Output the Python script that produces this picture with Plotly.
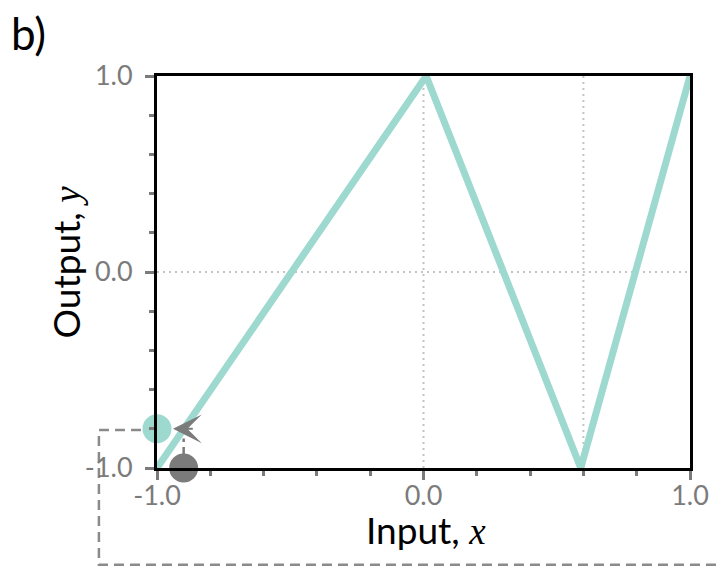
import plotly.graph_objects as go

# data
line_x = [-1.0, 0.01, 0.59, 1.0]
line_y = [-1.0, 1.0, -1.0, 1.0]
teal_pt_x = [-1.0]
teal_pt_y = [-0.8]
gray_pt_x = [-0.9]
gray_pt_y = [-1.0]
grid_x = [0.0, 0.6]
grid_y = [0.0]
tick_vals = [-1.0, 0.0, 1.0]
tick_text = ["-1.0", "0.0", "1.0"]
x_title = "Input, "
y_title = "Output, "

TEAL = "#9ed9d0"
GRAY = "#7b7b7b"
DASHGRAY = "#8a8a8a"
FONT = "Lato"
MATH = "<span style='font-family:Liberation Serif;font-style:italic'>%s</span>"

fig = go.Figure()
fig.add_trace(go.Scatter(x=line_x, y=line_y, mode="lines",
                         line=dict(color=TEAL, width=7), cliponaxis=False,
                         showlegend=False, hoverinfo="skip"))
# dashed connector from gray point up towards the arrow
fig.add_trace(go.Scatter(x=[gray_pt_x[0], gray_pt_x[0]], y=[gray_pt_y[0], teal_pt_y[0] - 0.05],
                         mode="lines", line=dict(color=GRAY, width=2.5, dash="8px,5px"),
                         cliponaxis=False, showlegend=False, hoverinfo="skip"))
fig.add_trace(go.Scatter(x=teal_pt_x, y=teal_pt_y, mode="markers",
                         marker=dict(color=TEAL, size=29), cliponaxis=False, showlegend=False))
fig.add_trace(go.Scatter(x=gray_pt_x, y=gray_pt_y, mode="markers",
                         marker=dict(color=GRAY, size=29), cliponaxis=False, showlegend=False))

shapes = []
for gx in grid_x:
    shapes.append(dict(type="line", xref="x", yref="y", x0=gx, x1=gx, y0=-1, y1=1,
                       line=dict(color="#c4c4c4", width=2, dash="2px,4px"), layer="below"))
for gy in grid_y:
    shapes.append(dict(type="line", xref="x", yref="y", x0=-1, x1=1, y0=gy, y1=gy,
                       line=dict(color="#c4c4c4", width=2, dash="2px,4px"), layer="below"))
# dashed box outline (paper coords, continues past the figure edge)
shapes.append(dict(type="path", xref="paper", yref="paper",
                   path="M 0,0.097 L -0.109,0.097 L -0.109,-0.247 L 1.2,-0.247",
                   line=dict(color=DASHGRAY, width=2.5, dash="10px,6px"), layer="below"))

fig.update_layout(
    width=717, height=567,
    margin=dict(l=157, r=27, t=76, b=99),
    paper_bgcolor="white", plot_bgcolor="white",
    shapes=shapes,
    font=dict(family=FONT),
    annotations=[
        dict(text="b)", xref="paper", yref="paper", x=-0.278, y=1.18, xanchor="left", yanchor="top",
             showarrow=False, font=dict(size=44, color="black", family=FONT)),
        dict(x=-0.94, y=-0.8, ax=-0.86, ay=-0.8, xref="x", yref="y", axref="x", ayref="y",
             text="", showarrow=True, arrowhead=3, arrowsize=2.4, arrowwidth=2, arrowcolor=GRAY),
        dict(text=x_title + MATH % "x", xref="paper", yref="paper", x=0.505, y=-0.158,
             xanchor="center", yanchor="middle", showarrow=False,
             font=dict(size=37, color="black", family=FONT)),
        dict(text=y_title + MATH % "y", xref="paper", yref="paper", x=-0.172, y=0.525,
             xanchor="center", yanchor="middle", textangle=-90, showarrow=False,
             font=dict(size=37, color="black", family=FONT)),
    ],
    xaxis=dict(range=[-1, 1], tickvals=tick_vals, ticktext=tick_text, automargin=False,
               showgrid=False, zeroline=False,
               showline=True, linecolor="black", linewidth=3, mirror=True,
               ticks="outside", ticklen=9, tickwidth=3, tickcolor=GRAY,
               ticklabelstandoff=-7,
               tickfont=dict(size=27, color=GRAY, family=FONT),
               minor=dict(dtick=0.2, tick0=0, ticks="outside", ticklen=5, tickwidth=3, tickcolor=GRAY)),
    yaxis=dict(range=[-1, 1], tickvals=tick_vals, ticktext=tick_text, automargin=False,
               showgrid=False, zeroline=False,
               showline=True, linecolor="black", linewidth=3, mirror=True,
               ticks="outside", ticklen=9, tickwidth=3, tickcolor=GRAY,
               ticklabelstandoff=7,
               tickfont=dict(size=27, color=GRAY, family=FONT),
               minor=dict(dtick=0.2, tick0=0, ticks="outside", ticklen=5, tickwidth=3, tickcolor=GRAY)),
)

fig.write_html("out.html", config={"displayModeBar": False},
               post_script="document.body.style.margin='0';")
